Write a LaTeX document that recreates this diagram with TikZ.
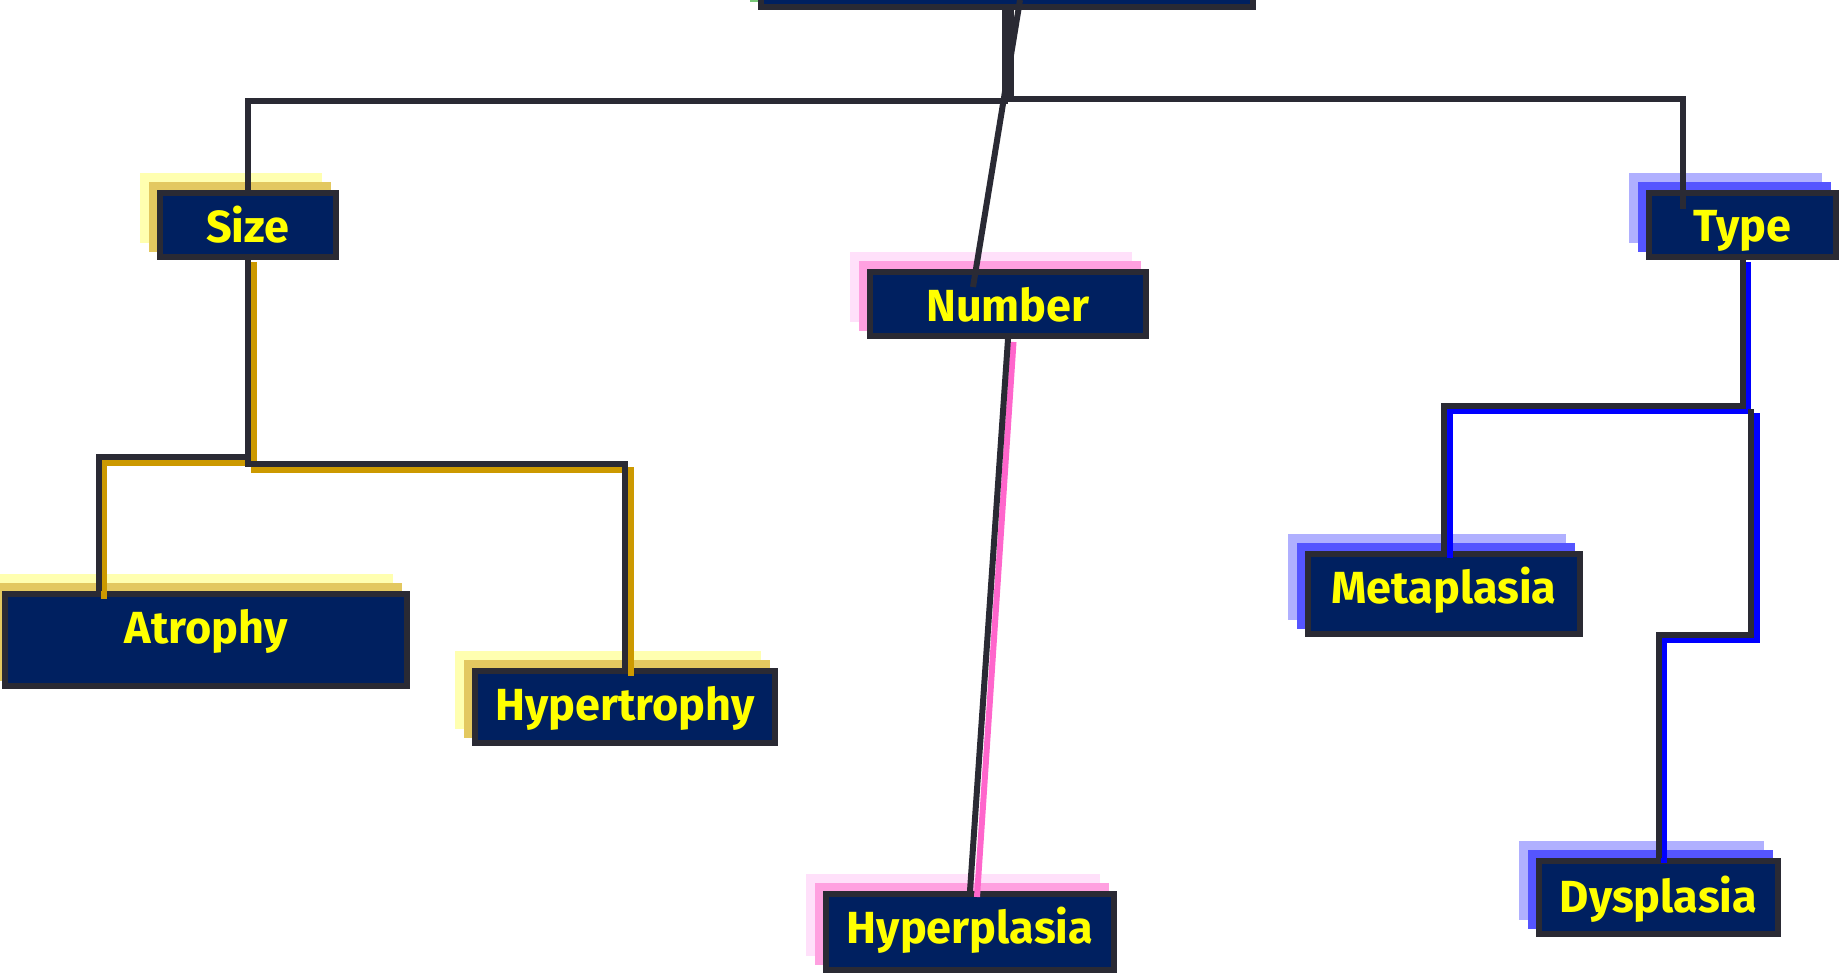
\documentclass[tikz,border=0pt]{standalone}
\usepackage{fontspec}
\newfontfamily\lblfont{Fira Sans}
\usetikzlibrary{backgrounds}
\definecolor{boxfill}{RGB}{0,32,96}
\definecolor{boxline}{RGB}{42,42,52}
\definecolor{txt}{RGB}{255,255,0}
\definecolor{goldln}{RGB}{204,153,0}
\definecolor{ylight}{RGB}{255,255,176}
\definecolor{ydark}{RGB}{227,200,96}
\definecolor{plight}{RGB}{255,224,250}
\definecolor{pdark}{RGB}{255,160,224}
\definecolor{pinkln}{RGB}{255,102,204}
\definecolor{blight}{RGB}{176,176,255}
\definecolor{bdark}{RGB}{85,85,255}
\definecolor{blueln}{RGB}{0,0,255}
\definecolor{glight}{RGB}{200,240,200}
\definecolor{gdark}{RGB}{120,200,120}
\tikzset{
  box/.style={draw=boxline, fill=boxfill, line width=6pt, inner sep=0pt,
    text=txt, text height=40pt, font=\lblfont\bfseries\fontsize{45}{50}\selectfont},
  dk/.style={draw=boxline, line width=6pt},
  gd/.style={draw=goldln, line width=6pt},
  pk/.style={draw=pinkln, line width=6pt},
  bl/.style={draw=blueln, line width=6pt}
}
\newcommand\shadpair[3]{%
  \fill[#2] ([shift={(-17,-17)}]#1.north west) rectangle ([shift={(-17,-17)}]#1.south east);
  \fill[#3] ([shift={(-8,-8)}]#1.north west) rectangle ([shift={(-8,-8)}]#1.south east);}
\begin{document}
\begin{tikzpicture}[x=1pt,y=-1pt]
\useasboundingbox (0,0) rectangle (1843,973);
% nodes (outer size = minimum size + line width)
\node[box, minimum width=492pt, minimum height=74pt] (top) at (1007,-30) {};
\node[box, text depth=4pt, minimum width=176pt, minimum height=64pt] (size) at (248,225) {Size};
\node[box, text depth=4pt, minimum width=276pt, minimum height=64pt] (number) at (1008,304) {Number};
\node[box, text depth=6pt, minimum width=187pt, minimum height=64pt] (type) at (1742.5,225) {Type};
\node[box, text depth=34pt, minimum width=402pt, minimum height=92pt] (atrophy) at (206,640) {Atrophy};
\node[box, text depth=14pt, minimum width=300pt, minimum height=72pt] (hypertrophy) at (625,707) {Hypertrophy};
\node[box, text depth=18pt, minimum width=288pt, minimum height=76pt] (hyperplasia) at (970,932) {Hyperplasia};
\node[box, text depth=22pt, minimum width=272pt, minimum height=80pt] (metaplasia) at (1444,594) {Metaplasia};
\node[box, text depth=11pt, minimum width=239pt, minimum height=73pt] (dysplasia) at (1658.5,897.5) {Dysplasia};
% shadows
\begin{scope}[on background layer]
  \shadpair{top}{glight}{gdark}
  \shadpair{size}{ylight}{ydark}
  \shadpair{atrophy}{ylight}{ydark}
  \shadpair{hypertrophy}{ylight}{ydark}
  \shadpair{number}{plight}{pdark}
  \shadpair{hyperplasia}{plight}{pdark}
  \shadpair{type}{blight}{bdark}
  \shadpair{metaplasia}{blight}{bdark}
  \shadpair{dysplasia}{blight}{bdark}
\end{scope}
% junction coordinates
\coordinate (sj) at (251,470);
\coordinate (tj) at (1751,409);
\coordinate (tjb) at (1756.5,413);
% coloured connector shadows
\draw[gd] ([shift={(6,2)}]size.south) |- (104,463) -- ([shift={(-102,8)}]atrophy.north);
\draw[gd] (sj) -| ([shift={(5.5,8)}]hypertrophy.north);
\draw[pk] ([shift={(5.5,3)}]number.south) -- ([shift={(7,6)}]hyperplasia.north);
\draw[bl] ([shift={(5.5,2)}]type.south) |- (1449.5,411) -- ([shift={(5.5,7)}]metaplasia.north);
\draw[bl] (tjb) -- (1756.5,640) -| ([shift={(5,5)}]dysplasia.north);
% dark connectors
\draw[dk] ([shift={(-2,-4)}]top.south) -- (1005,101) -| (size.north);
\draw[dk] ([shift={(4,-4)}]top.south) -- (1011,99) -| ([shift={(-59.5,19)}]type.north);
\draw[dk] ([shift={(13,-10)}]top.south) -- ([shift={(-35,18)}]number.north);
\draw[dk] (size.south) |- (99,457) -- (atrophy.north -| 99,0);
\draw[dk] (size.south) -- (248,464) -| (hypertrophy.north);
\draw[dk] (number.south) -- (hyperplasia.north);
\draw[dk] (type.south) |- (1444,405.5) -- (metaplasia.north);
\draw[dk] (tj) -- (1751,635) -| (dysplasia.north);
\end{tikzpicture}
\end{document}
